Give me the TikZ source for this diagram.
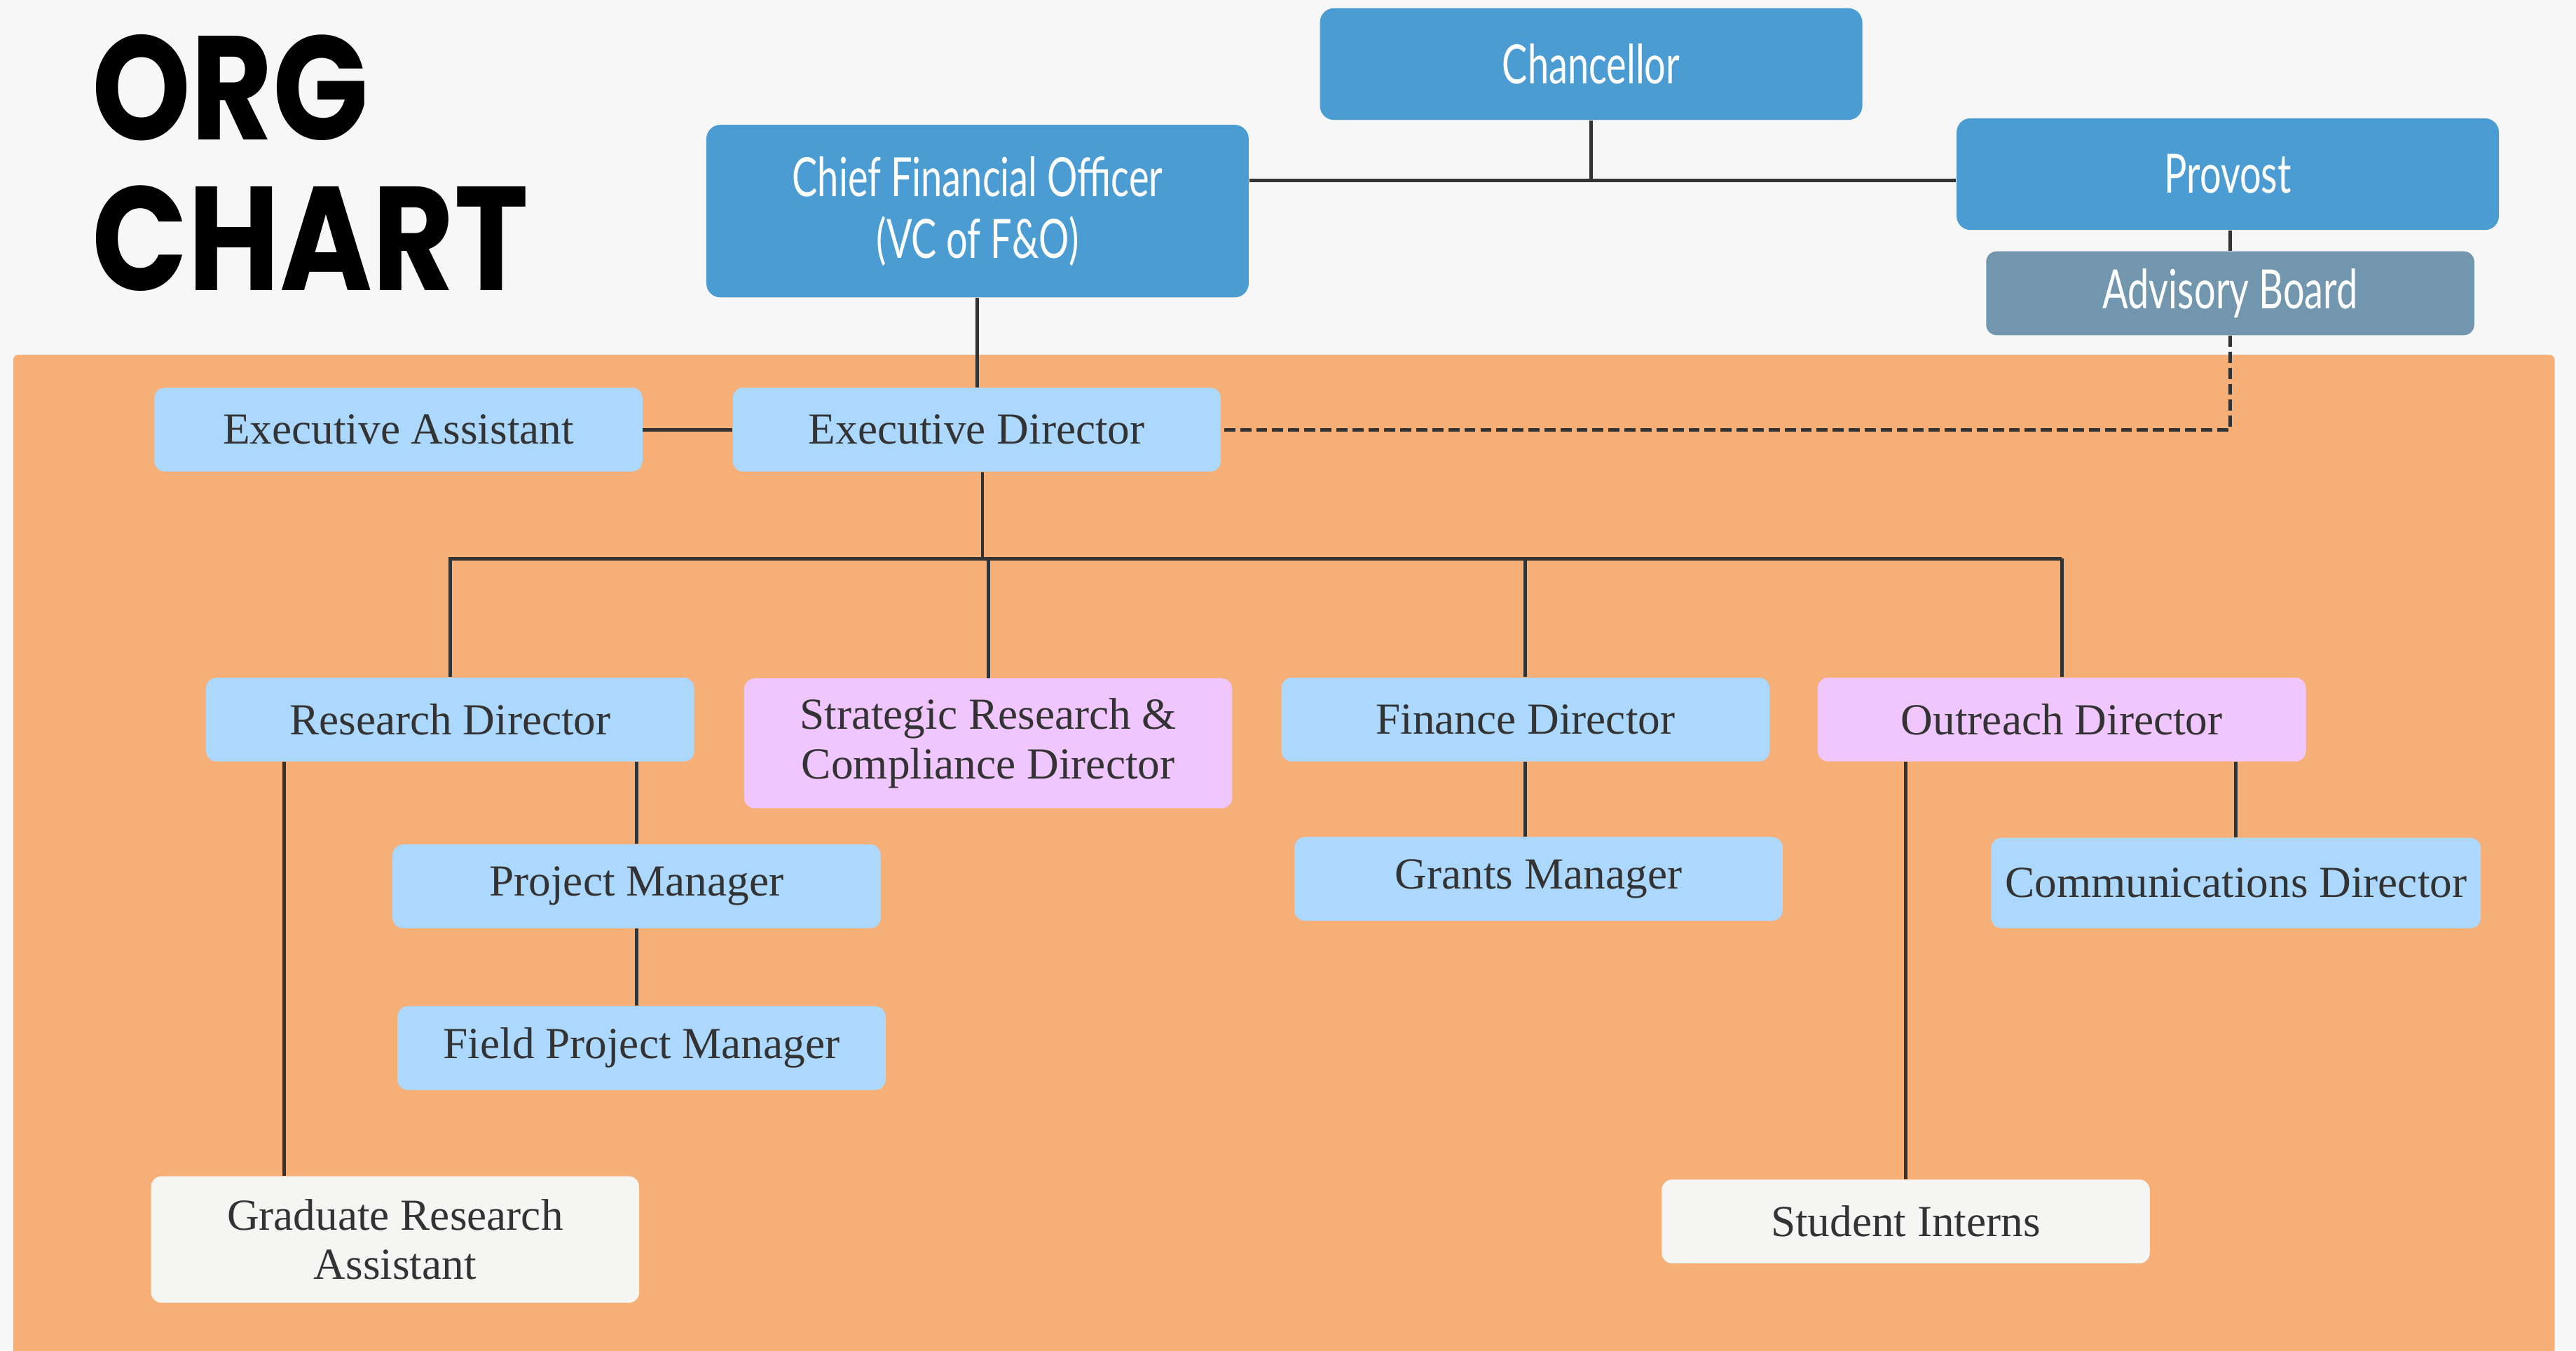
\documentclass[tikz,border=0pt]{standalone}
\usepackage{fontspec}
\usepackage{xcolor}
\usepackage{tikz}
\usetikzlibrary{calc}

\setmainfont{Liberation Serif}
\newfontfamily\headfont[FakeStretch=0.7]{Lato}
\newfontfamily\titlefont[FakeStretch=0.85]{Poppins}

\definecolor{paper}{HTML}{F7F7F7}
\definecolor{band}{HTML}{F6AF77}
\definecolor{headblue}{HTML}{4B9CD3}
\definecolor{boardgray}{HTML}{7196AE}
\definecolor{staffblue}{HTML}{ADD8FE}
\definecolor{lilac}{HTML}{F0C6FE}
\definecolor{offwhite}{HTML}{F5F5F3}
\definecolor{ink}{HTML}{333333}

\begin{document}
\begin{tikzpicture}[x=0.023444cm, y=-0.023444cm,
    box/.style={rounded corners=0.15cm, inner sep=0pt, align=center,
      minimum width=6.963cm, minimum height=1.196cm, text=ink,
      font=\fontsize{18}{20}\selectfont},
    lead/.style={box, fill=headblue, text=white, minimum width=7.737cm,
      minimum height=1.594cm, rounded corners=0.2cm,
      font=\headfont\fontsize{22}{25}\selectfont},
    staff/.style={box, fill=staffblue},
    special/.style={box, fill=lilac},
    support/.style={box, fill=offwhite},
    titletext/.style={inner sep=0pt, anchor=base west,
      font=\titlefont\bfseries\fontsize{60}{60}\selectfont},
    link/.style={draw=ink, line width=1.4pt},
    dashlink/.style={link, dash pattern=on 4.5pt off 2pt}]

  % page and orange band
  \useasboundingbox (0,0) rectangle (1568,822);
  \fill[paper] (0,0) rectangle (1568,822);
  \fill[band, rounded corners=2pt] (8,216) rectangle (1555,840);

  % title
  \node[titletext] (org) at (56,85) {ORG};
  \node[titletext] (chart) at (56,177) {CHART};

  % top level
  \node[lead] (ch) at (968.5,39) {Chancellor};
  \node[lead, minimum height=2.462cm] (cfo) at (595,128.5) {Chief Financial Officer\\(VC of F\&O)};
  \node[lead] (pv) at (1356,106) {Provost};
  \node[lead, fill=boardgray, minimum width=6.963cm, minimum height=1.196cm,
    rounded corners=0.15cm] (ab) at (1357.5,178.5) {Advisory Board};

  % executive row
  \node[staff] (ea) at (242.5,261.5) {Executive Assistant};
  \node[staff] (ed) at (594.5,261.5) {Executive Director};

  % directors
  \node[staff] (rd) at (274,438) {Research Director};
  \node[special, minimum height=1.852cm] (src) at (601.5,452.5) {Strategic Research \&\\Compliance Director};
  \node[staff] (fd) at (928.5,438) {Finance Director};
  \node[special] (od) at (1255,438) {Outreach Director};

  % managers and staff
  \node[staff] (pm) at (387.5,539.5) {Project Manager};
  \node[staff] (fpm) at (390.5,638) {Field Project Manager};
  \node[staff] (gm) at (936.5,535) {Grants Manager};
  \node[staff, minimum width=6.986cm, minimum height=1.289cm] (cd) at (1361,537.5) {Communications Director};
  \node[support, minimum height=1.805cm] (gra) at (240.5,754.5) {Graduate Research\\Assistant};
  \node[support] (si) at (1160,743.5) {Student Interns};

  % top connectors
  \coordinate (top) at (968,110);
  \draw[link] (cfo.east |- top) -- (pv.west |- top);
  \draw[link] (ch.south) -- (ch.south |- top);
  \draw[link] (ab.north) -- (ab.north |- pv.south);
  \draw[link] (cfo.south) -- (ed.north -| cfo.south);
  \draw[link] (ea.east) -- (ed.west);
  \draw[dashlink] (ab.south) |- (ed.east);

  % bus to directors
  \coordinate (bus) at (598,340);
  \draw[link] (ed.south -| bus) -- (bus);
  \draw[link] (rd.north) |- (od.north |- bus);
  \foreach \n in {src,fd,od}
    \draw[link] (\n.north) -- (\n.north |- bus);

  % lower connectors
  \draw[link] (rd.south -| 173,0) -- (gra.north -| 173,0);
  \draw[link] (pm.north) -- (pm.north |- rd.south);
  \draw[link] (pm.south) -- (pm.south |- fpm.north);
  \draw[link] (fd.south) -- (fd.south |- gm.north);
  \draw[link] (si.north) -- (si.north |- od.south);
  \draw[link] (cd.north) -- (cd.north |- od.south);
\end{tikzpicture}
\end{document}
